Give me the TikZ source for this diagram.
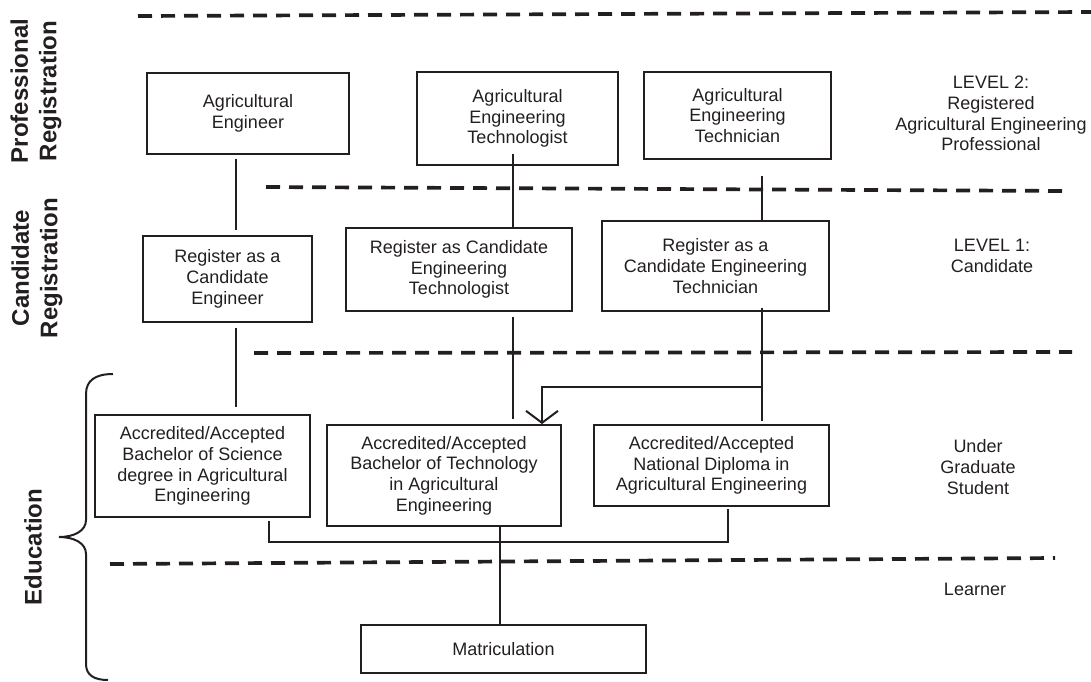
\documentclass[tikz,border=0pt]{standalone}
\usepackage{fontspec}
\setmainfont{Liberation Sans}
\usetikzlibrary{arrows.meta,calc}
\definecolor{ink}{RGB}{35,31,32}

\begin{document}
\begin{tikzpicture}[x=1pt,y=-1pt]
\tikzstyle{box} = [draw=ink,text=ink,line width=1.8pt,inner sep=0pt,align=center,font=\fontsize{18}{20.7}\selectfont]
\tikzstyle{link} = [draw=ink,line width=2pt]
\tikzstyle{level} = [draw=ink,dash pattern=on 14pt off 9pt,line width=3.7pt]
\tikzstyle{stage} = [text=ink,rotate=90,align=center,inner sep=0pt,font=\bfseries\fontsize{24}{28.5}\selectfont]
\tikzstyle{rank} = [text=ink,align=center,inner sep=0pt,font=\fontsize{18}{20.7}\selectfont]

\useasboundingbox (0,0) rectangle (1091,681);

\draw[level] (138,16) -- (1091,12);
\draw[level] (266,187) -- (1069,191);
\draw[level] (254,353) -- (1072,352);
\draw[level] (110,564) -- (1055,558);

\node[stage] (pro) at (36,91) {Professional\\Registration};
\node[stage] (cand) at (37,268) {Candidate\\Registration};
\node[stage] (edu) at (33,547) {Education};

\node[box,minimum width=202pt,minimum height=81pt] (AE) at (248,113.5) {Agricultural\\Engineer};
\node[box,minimum width=201pt,minimum height=93pt] (AET) at (517.5,118.5) {Agricultural\\Engineering\\Technologist};
\node[box,minimum width=187pt,minimum height=87pt] (AETn) at (737.5,115.5) {Agricultural\\Engineering\\Technician};
\node[box,minimum width=169pt,minimum height=86pt] (RCE) at (227.5,279) {Register as a\\Candidate\\Engineer};
\node[box,minimum width=226pt,minimum height=83pt] (RCET) at (459,269.5) {Register as Candidate\\Engineering\\Technologist};
\node[box,minimum width=227pt,minimum height=90pt] (RCETn) at (715.5,266) {Register as a\\Candidate Engineering\\Technician};
\node[box,minimum width=215pt,minimum height=102pt] (BSc) at (202.5,466) {Accredited/Accepted\\Bachelor of Science\\degree in Agricultural\\Engineering};
\node[box,minimum width=234pt,minimum height=101pt] (BTech) at (444,475.5) {Accredited/Accepted\\Bachelor of Technology\\in Agricultural\\Engineering};
\node[box,minimum width=235pt,minimum height=81pt] (ND) at (711.5,465.5) {Accredited/Accepted\\National Diploma in\\Agricultural Engineering};
\node[box,minimum width=285pt,minimum height=48pt] (Matric) at (503.5,649) {Matriculation};

\node[rank] (lvl2) at (991,113.5) {LEVEL 2:\\Registered\\Agricultural Engineering\\Professional};
\node[rank] (lvl1) at (992,256) {LEVEL 1:\\Candidate};
\node[rank] (ugs) at (978,467) {Under\\Graduate\\Student};
\node[rank] (learner) at (975,589) {Learner};

\coordinate (x1) at (236,0);
\coordinate (x2) at (512.5,0);
\coordinate (x3) at (762,0);
\coordinate (x4) at (542,0);
\coordinate (x5) at (269,0);
\coordinate (x6) at (728,0);
\coordinate (split) at (762,387);
\coordinate (join) at (500,542);

\draw[link,shorten <=4pt,shorten >=5pt] (AE.south -| x1) -- (RCE.north -| x1);
\draw[link,shorten <=5pt,shorten >=7pt] (RCE.south -| x1) -- (BSc.north -| x1);
\draw[link,shorten <=-12pt] (AET.south -| x2) -- (RCET.north -| x2);
\draw[link,shorten <=16pt,shorten >=-2pt] (AETn.south -| x3) -- (RCETn.north -| x3);
\draw[link,shorten <=5pt,shorten >=5pt] (RCET.south -| x2) -- (BTech.north -| x2);
\draw[link,shorten <=-4pt,shorten >=3pt] (RCETn.south -| x3) -- (ND.north -| x3);
\draw[link,-{Straight Barb[length=12pt,width=32pt]}] (split) -| (BTech.north -| x4);
\draw[link] ($(BSc.south -| x5)+(0,3)$) |- (join) -| ($(ND.south -| x6)+(0,2)$);
\draw[link] (BTech.south -| join) -- (Matric.north -| join);

\draw[link] (113,374) .. controls (96,374) and (86,380) .. (86,394) -- (86,520) .. controls (86,531) and (74,537) .. (59,537) .. controls (74,537) and (86,543) .. (86,554) -- (86,664) .. controls (86,675) and (94,680) .. (108,680);
\end{tikzpicture}
\end{document}
